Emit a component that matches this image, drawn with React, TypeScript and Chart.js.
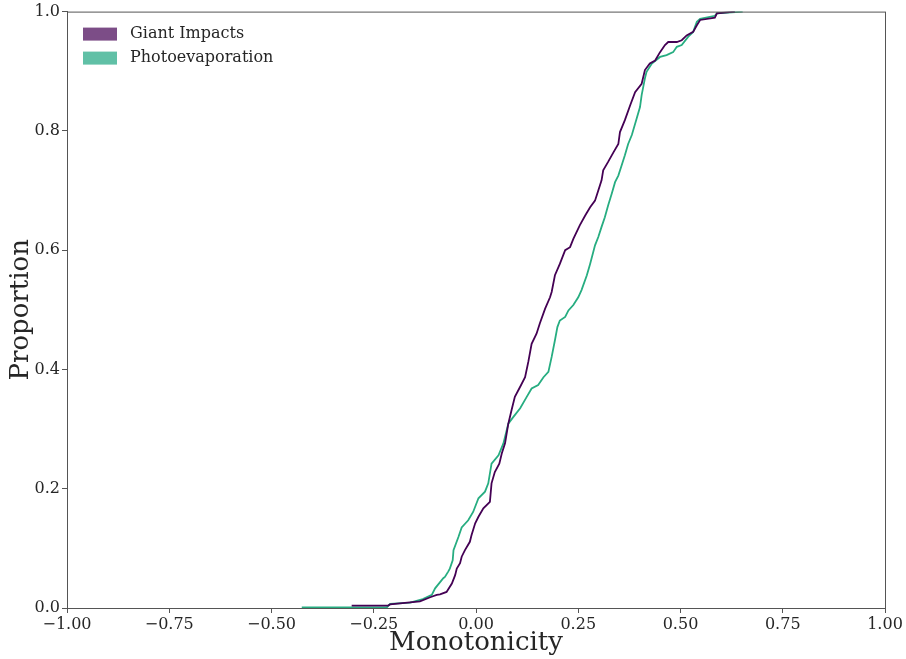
import { useEffect, useRef } from 'react';
import { Chart, registerables } from 'chart.js';

Chart.register(...registerables);

const seriesLabels = ['Giant Impacts', 'Photoevaporation'];
const lineColors = ['#440154', '#27ad81'];
const patchColors = ['rgba(68,1,84,0.7)', 'rgba(34,168,132,0.72)'];

const giantX = [-0.304, -0.215, -0.210, -0.137, -0.112, -0.096, -0.088, -0.072, -0.059, -0.051, -0.047, -0.039, -0.035, -0.027, -0.015, -0.011, -0.002, 0.006, 0.018, 0.034, 0.038, 0.046, 0.057, 0.063, 0.071, 0.079, 0.087, 0.095, 0.108, 0.120, 0.128, 0.136, 0.148, 0.156, 0.169, 0.181, 0.185, 0.193, 0.205, 0.218, 0.230, 0.238, 0.254, 0.267, 0.279, 0.291, 0.299, 0.307, 0.311, 0.323, 0.336, 0.348, 0.352, 0.364, 0.377, 0.389, 0.405, 0.413, 0.425, 0.438, 0.450, 0.462, 0.470, 0.491, 0.503, 0.515, 0.531, 0.540, 0.548, 0.584, 0.589, 0.633];
const giantY = [0.004, 0.004, 0.006, 0.011, 0.018, 0.022, 0.023, 0.027, 0.041, 0.055, 0.066, 0.075, 0.086, 0.097, 0.111, 0.122, 0.142, 0.153, 0.167, 0.178, 0.209, 0.228, 0.242, 0.259, 0.276, 0.309, 0.332, 0.354, 0.371, 0.387, 0.413, 0.443, 0.460, 0.477, 0.502, 0.521, 0.530, 0.558, 0.577, 0.600, 0.605, 0.619, 0.642, 0.658, 0.672, 0.683, 0.700, 0.717, 0.734, 0.748, 0.764, 0.778, 0.798, 0.818, 0.843, 0.865, 0.879, 0.902, 0.913, 0.918, 0.932, 0.944, 0.949, 0.949, 0.952, 0.960, 0.966, 0.977, 0.986, 0.990, 0.997, 1.0];

const photoX = [-0.426, -0.218, -0.210, -0.161, -0.130, -0.108, -0.100, -0.080, -0.076, -0.068, -0.064, -0.057, -0.055, -0.043, -0.035, -0.019, -0.007, 0.006, 0.022, 0.030, 0.038, 0.055, 0.067, 0.079, 0.091, 0.108, 0.124, 0.136, 0.152, 0.165, 0.177, 0.185, 0.193, 0.199, 0.205, 0.218, 0.226, 0.238, 0.250, 0.258, 0.271, 0.279, 0.291, 0.299, 0.307, 0.315, 0.323, 0.332, 0.340, 0.348, 0.356, 0.364, 0.372, 0.381, 0.393, 0.401, 0.405, 0.413, 0.417, 0.430, 0.450, 0.466, 0.482, 0.491, 0.503, 0.519, 0.531, 0.540, 0.548, 0.584, 0.589, 0.652];
const photoY = [0.001, 0.001, 0.007, 0.009, 0.015, 0.022, 0.033, 0.050, 0.052, 0.061, 0.066, 0.080, 0.097, 0.119, 0.135, 0.147, 0.161, 0.184, 0.195, 0.209, 0.242, 0.256, 0.276, 0.309, 0.320, 0.335, 0.354, 0.368, 0.374, 0.387, 0.396, 0.421, 0.449, 0.471, 0.482, 0.488, 0.499, 0.508, 0.521, 0.533, 0.558, 0.577, 0.608, 0.622, 0.639, 0.655, 0.675, 0.695, 0.714, 0.725, 0.742, 0.759, 0.778, 0.793, 0.821, 0.840, 0.860, 0.888, 0.899, 0.913, 0.924, 0.927, 0.932, 0.941, 0.944, 0.958, 0.966, 0.983, 0.988, 0.993, 0.997, 1.0];

const xTickValues = [-1, -0.75, -0.5, -0.25, 0, 0.25, 0.5, 0.75, 1];
const yTickValues = [0, 0.2, 0.4, 0.6, 0.8, 1.0];

const FONT = '"DejaVu Serif", serif';
const AXIS_COLOR = '#555555';
const TEXT_COLOR = '#262626';

const framePlugin = {
  id: 'frameAndLegend',
  afterDraw(chart: any) {
    const { ctx, chartArea } = chart;
    ctx.save();
    ctx.strokeStyle = AXIS_COLOR;
    ctx.lineWidth = 1;
    ctx.strokeRect(chartArea.left + 0.5, chartArea.top + 0.5, chartArea.right - chartArea.left, chartArea.bottom - chartArea.top);
    ctx.font = `16px ${FONT}`;
    ctx.textBaseline = 'middle';
    ctx.textAlign = 'left';
    seriesLabels.forEach((label, i) => {
      const y = chartArea.top + 16 + i * 24;
      ctx.fillStyle = patchColors[i];
      ctx.fillRect(chartArea.left + 16, y, 34, 13);
      ctx.fillStyle = TEXT_COLOR;
      ctx.fillText(label, chartArea.left + 63, y + 6.5);
    });
    ctx.restore();
  },
};

const fmtX = (v: number) => v.toFixed(2).replace('-', '\u2212');
const fmtY = (v: number) => v.toFixed(1);

export default function App() {
  const canvasRef = useRef<HTMLCanvasElement | null>(null);

  useEffect(() => {
    if (!canvasRef.current) return;
    const mk = (xs: number[], ys: number[]) => xs.map((x, i) => ({ x, y: ys[i] }));
    const chart = new Chart(canvasRef.current, {
      type: 'line',
      data: {
        datasets: [
          {
            label: seriesLabels[0],
            data: mk(giantX, giantY),
            borderColor: lineColors[0],
            borderWidth: 1.8,
            pointRadius: 0,
            tension: 0,
            fill: false,
          },
          {
            label: seriesLabels[1],
            data: mk(photoX, photoY),
            borderColor: lineColors[1],
            borderWidth: 1.8,
            pointRadius: 0,
            tension: 0,
            fill: false,
          },
        ],
      },
      options: {
        responsive: false,
        animation: false,
        devicePixelRatio: 1,
        layout: { padding: { top: 11, right: 21, left: 0, bottom: 0 } },
        plugins: { legend: { display: false }, tooltip: { enabled: false } },
        scales: {
          x: {
            type: 'linear',
            min: -1,
            max: 1,
            afterFit: (s: any) => { s.height = 51; },
            afterBuildTicks: (s: any) => { s.ticks = xTickValues.map((v) => ({ value: v })); },
            ticks: {
              callback: (v: any) => fmtX(Number(v)),
              font: { family: FONT, size: 16 },
              color: TEXT_COLOR,
              padding: 2,
              maxRotation: 0,
              autoSkip: false,
            },
            grid: { display: true, drawOnChartArea: false, drawTicks: true, tickLength: 5, color: AXIS_COLOR },
            border: { display: true, color: AXIS_COLOR },
            title: { display: true, text: 'Monotonicity', font: { family: FONT, size: 26 }, color: TEXT_COLOR, padding: { top: 0, bottom: 0 } },
          },
          y: {
            type: 'linear',
            min: 0,
            max: 1,
            afterFit: (s: any) => { s.width = 67; },
            afterBuildTicks: (s: any) => { s.ticks = yTickValues.map((v) => ({ value: v })); },
            ticks: {
              callback: (v: any) => fmtY(Number(v)),
              font: { family: FONT, size: 16 },
              color: TEXT_COLOR,
              padding: 2,
              autoSkip: false,
            },
            grid: { display: true, drawOnChartArea: false, drawTicks: true, tickLength: 5, color: AXIS_COLOR },
            border: { display: true, color: AXIS_COLOR },
            title: { display: true, text: 'Proportion', font: { family: FONT, size: 26 }, color: TEXT_COLOR, padding: { top: 6, bottom: 0 } },
          },
        },
      },
      plugins: [framePlugin],
    });
    return () => chart.destroy();
  }, []);

  return (
    <div style={{ position: 'fixed', left: 0, top: 0, width: 906, height: 659, background: '#fff' }}>
      <canvas ref={canvasRef} width={906} height={659} style={{ display: 'block' }} />
    </div>
  );
}
